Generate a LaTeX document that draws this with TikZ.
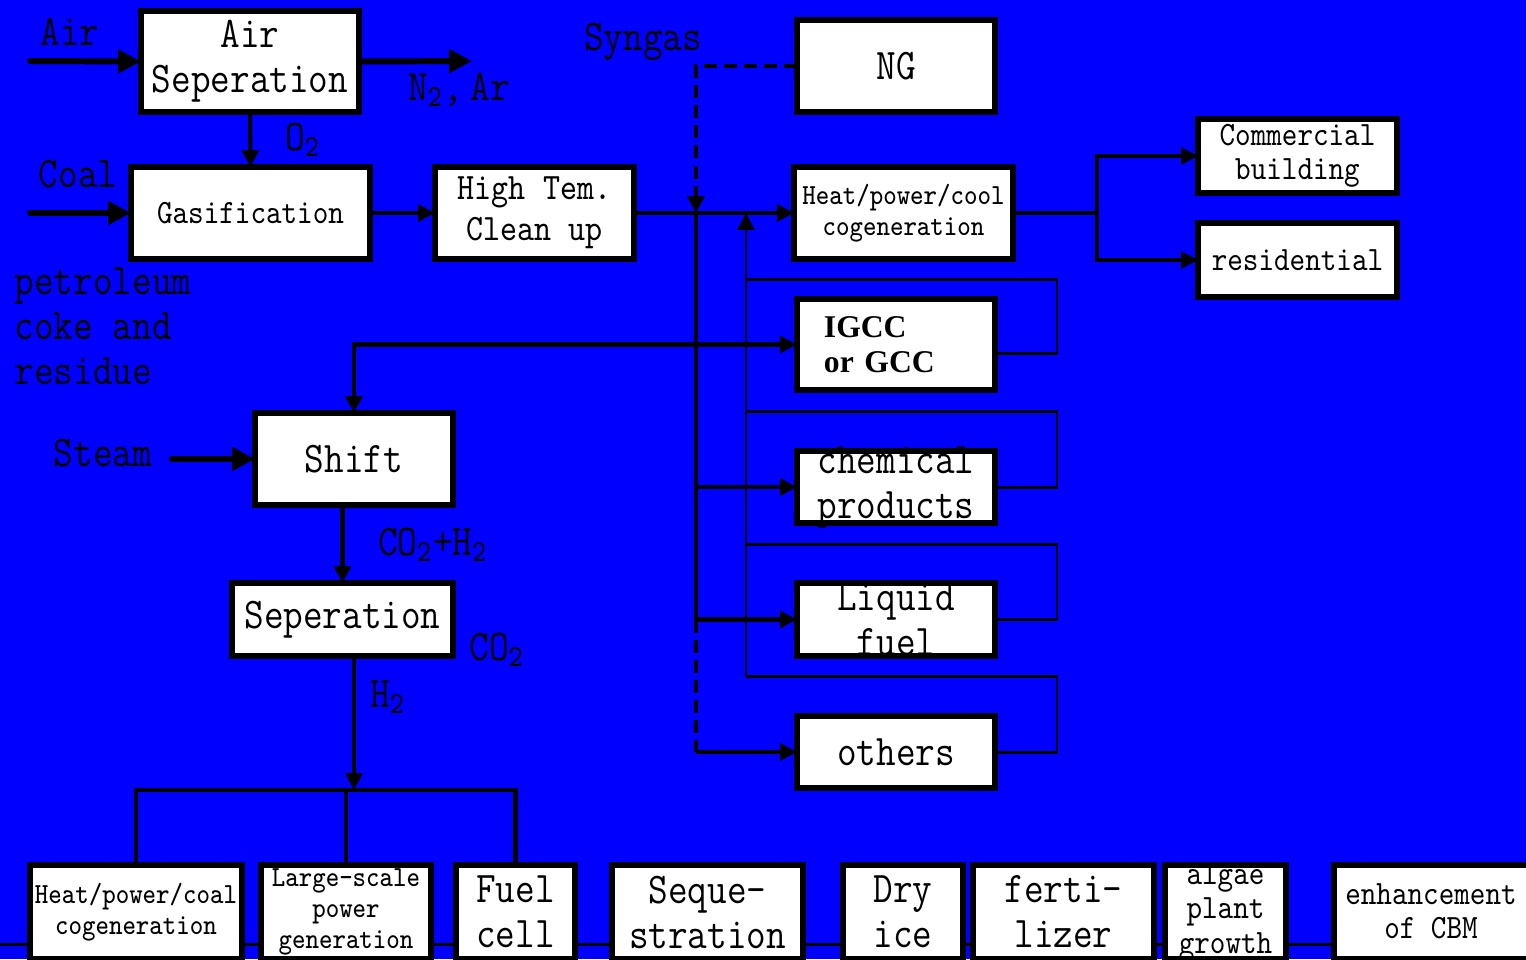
\documentclass[tikz,border=0pt]{standalone}
\usepackage{fontspec}
\newfontfamily\simfont[FakeStretch=0.87]{Latin Modern Mono}
\newfontfamily\timesbf{Liberation Serif}
\usetikzlibrary{arrows.meta}

\begin{document}
\begin{tikzpicture}[x=0.01cm, y=-0.01cm, box/.style={draw, fill=white, line width=1.7pt, inner sep=0pt, outer sep=0pt, align=center}, big/.style={font=\simfont\fontsize{12.45}{12.8}\selectfont}, mid/.style={font=\simfont\fontsize{9.7}{9.8}\selectfont}, hig/.style={font=\simfont\fontsize{10.6}{11.7}\selectfont}, sma/.style={font=\simfont\fontsize{8.3}{8.8}\selectfont}, igc/.style={font=\timesbf\bfseries\fontsize{9}{10}\selectfont, align=left, text width=1.44cm}, fat/.style={line width=1.7pt, line cap=round, -{Triangle[length=6.5pt,width=6.5pt]}}, arr/.style={line width=1.15pt, -{Triangle[length=4.8pt,width=4.8pt]}}, lin/.style={line width=1.15pt}, thn/.style={line width=0.85pt}, dsh/.style={line width=1.15pt, dash pattern=on 3.7pt off 2pt}]

\useasboundingbox (0,0) rectangle (1526,959);
\fill[blue] (0,0) rectangle (1526,959);
\clip (0,0) rectangle (1526,959);

\coordinate (lbus) at (0,944);
\coordinate (rbus) at (1526,944);
\draw[thn] (lbus) -- (rbus);

\node[box, big, minimum width=2.18cm, minimum height=1.01cm] (airsep) at (250,61.5) {Air\\Seperation};
\node[box, mid, minimum width=2.39cm, minimum height=0.92cm] (gasif) at (250.5,213) {Gasification};
\node[box, hig, minimum width=1.99cm, minimum height=0.92cm] (clean) at (534.5,213) {High Tem.\\Clean up};
\node[box, big, minimum width=1.98cm, minimum height=0.92cm] (ng) at (896,66) {NG};
\node[box, sma, minimum width=2.19cm, minimum height=0.92cm] (chp) at (903.5,213) {Heat/power/cool\\cogeneration};
\node[box, mid, minimum width=1.99cm, minimum height=0.74cm] (comm) at (1297.5,156) {Commercial\\building};
\node[box, mid, minimum width=1.99cm, minimum height=0.74cm] (resid) at (1297.5,260) {residential};
\node[box, igc, minimum width=1.98cm, minimum height=0.91cm] (igcc) at (896,344.5) {IGCC\\or GCC};
\node[box, minimum width=1.98cm, minimum height=0.72cm] (chem) at (896,487) {};
\node[big, align=center] (chemtxt) at (chem) {chemical\\products};
\node[box, minimum width=1.98cm, minimum height=0.73cm] (liq) at (896,619.5) {};
\node[big, align=center] (liqtxt) at (liq) {Liquid\\fuel};
\node[box, big, minimum width=1.98cm, minimum height=0.72cm] (oth) at (896,752) {others};
\node[box, big, minimum width=1.98cm, minimum height=0.92cm] (shift) at (354,459) {Shift};
\node[box, big, minimum width=2.21cm, minimum height=0.73cm] (sep) at (342.5,619.5) {Seperation};

\node[box, sma, minimum width=2.12cm, minimum height=0.94cm] (hpc) at (136,912) {Heat/power/coal\\cogeneration};
\node[box, minimum width=1.70cm, minimum height=0.94cm] (large) at (346,912) {};
\node[sma, align=center] (largetxt) at (large) {Large-scale\\power\\generation};
\node[box, big, minimum width=1.19cm, minimum height=0.94cm] (fuelc) at (515.5,912) {Fuel\\cell};
\node[box, big, minimum width=1.91cm, minimum height=0.94cm] (seq) at (707.5,912) {Seque-\\stration};
\node[box, big, minimum width=1.20cm, minimum height=0.94cm] (dry) at (903,912) {Dry\\ice};
\node[box, big, minimum width=1.81cm, minimum height=0.94cm] (fert) at (1063.5,912) {ferti-\\lizer};
\node[box, minimum width=1.21cm, minimum height=0.94cm] (algae) at (1225.5,912) {};
\node[mid, align=center] (algaetxt) at (algae) {algae\\plant\\growth};
\node[box, minimum width=2.25cm, minimum height=0.94cm] (cbm) at (1447,912) {};
\node[mid, align=center] (cbmtxt) at (1431,911) {enhancement\\of CBM};

\node[big] (airlbl) at (70,32) {Air};
\node[big] (n2lbl) at (459,90) {N\textsubscript{2},\,Ar};
\node[big] (o2lbl) at (303,140) {O\textsubscript{2}};
\node[big] (coallbl) at (78,174) {Coal};
\node[big, align=left, anchor=west, inner sep=0pt] (petlbl) at (14,326) {petroleum\\coke and\\residue};
\node[big] (synlbl) at (643,42) {Syngas};
\node[big] (steamlbl) at (103,453) {Steam};
\node[big] (shlbl) at (433,545) {CO\textsubscript{2}+H\textsubscript{2}};
\node[big] (co2lbl) at (497,650) {CO\textsubscript{2}};
\node[big] (h2lbl) at (388,697) {H\textsubscript{2}};

\coordinate (airin) at (30,61);
\coordinate (n2out) at (472,61);
\coordinate (coalin) at (30,213);
\coordinate (steamin) at (172,459);
\coordinate (syn) at (696,213);
\coordinate (ret) at (746,213);
\coordinate (split) at (1097,213);
\coordinate (loopr) at (1057,0);
\coordinate (r1) at (746,279);
\coordinate (r2) at (746,411);
\coordinate (r3) at (746,544);
\coordinate (r4) at (746,676);
\coordinate (hbus) at (354,790);

\draw[fat] (airin) -- (airsep.west);
\draw[fat] (airsep.east) -- (n2out);
\draw[arr] (airsep.south) -- (gasif.north);
\draw[fat] (coalin) -- (gasif.west);
\draw[arr] (gasif.east) -- (clean.west);
\draw[arr] (clean.east) -- (chp.west);
\draw[dsh, -{Triangle[length=4.8pt,width=4.8pt]}] (ng.west) -| (syn);
\draw[lin] (syn) -- (liq.west -| syn);
\draw[dsh] (liq.west -| syn) -- (oth.west -| syn);
\draw[arr] (oth.west -| syn) -- (oth.west);
\draw[arr] (chem.west -| syn) -- (chem.west);
\draw[arr] (liq.west -| syn) -- (liq.west);
\draw[arr] (igcc.west -| syn) -- (igcc.west);
\draw[arr] (igcc.west -| syn) -| (shift.north);
\draw[fat] (steamin) -- (shift.west);
\draw[arr] (shift.south -| sep.north) -- (sep.north);
\draw[arr] (sep.south -| hbus) -- (hbus);
\draw[lin] (hpc.north) |- (hbus) -| (fuelc.north);
\draw[lin] (large.north) -- (large.north |- hbus);

\draw[thn] ([yshift=-2.6pt]igcc.east) -| (loopr |- r1) -- (r1);
\draw[thn] (chem.east) -| (loopr |- r2) -- (r2);
\draw[thn] (liq.east) -| (loopr |- r3) -- (r3);
\draw[thn] (oth.east) -| (loopr |- r4) -- (r4);
\draw[thn, -{Triangle[length=4.8pt,width=4.8pt]}] (r4) -- (ret);

\draw[lin] (chp.east) -- (split);
\draw[arr] (split) |- (comm.west);
\draw[arr] (split) |- (resid.west);
\end{tikzpicture}
\end{document}
